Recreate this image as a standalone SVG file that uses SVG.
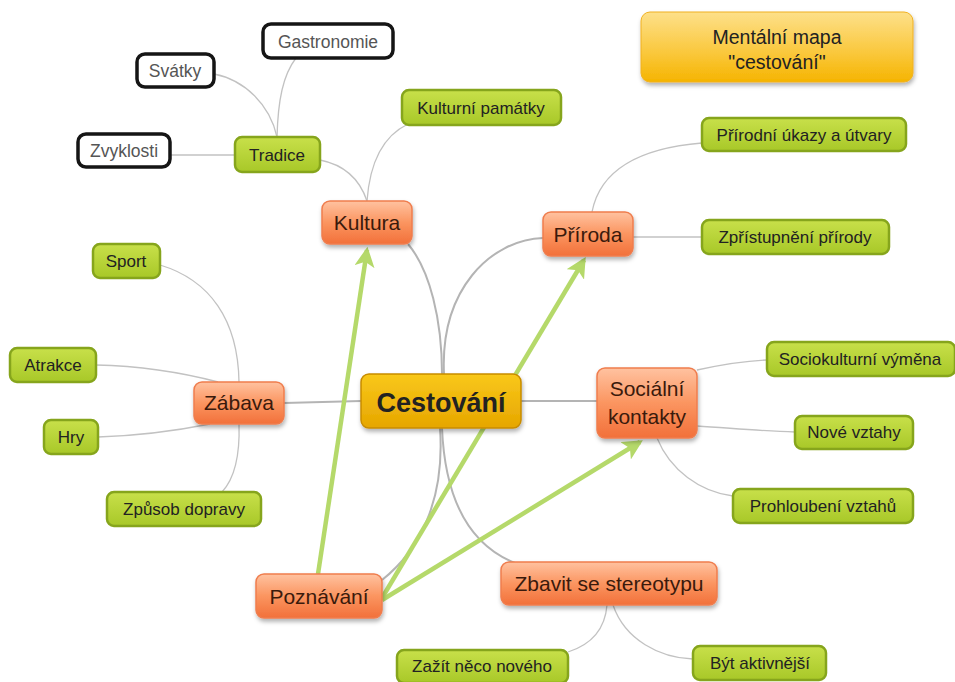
<svg xmlns="http://www.w3.org/2000/svg" width="955" height="682" viewBox="0 0 955 682">
<defs>
<linearGradient id="gOr" x1="0" y1="0" x2="0" y2="1"><stop offset="0" stop-color="#ffc2a0"/><stop offset="0.5" stop-color="#fb9560"/><stop offset="1" stop-color="#f2703a"/></linearGradient>
<linearGradient id="gGr" x1="0" y1="0" x2="0" y2="1"><stop offset="0" stop-color="#c8e04a"/><stop offset="1" stop-color="#a8c828"/></linearGradient>
<linearGradient id="gGold" x1="0" y1="0" x2="0" y2="1"><stop offset="0" stop-color="#f9c81a"/><stop offset="1" stop-color="#e6a600"/></linearGradient>
<linearGradient id="gTitle" x1="0" y1="0" x2="0" y2="1"><stop offset="0" stop-color="#fde08a"/><stop offset="0.6" stop-color="#fac73a"/><stop offset="1" stop-color="#f5b400"/></linearGradient>
<filter id="sh" x="-20%" y="-20%" width="140%" height="160%"><feDropShadow dx="1" dy="3" stdDeviation="2" flood-color="#000" flood-opacity="0.3"/></filter>
<marker id="ah" viewBox="0 0 12 12" refX="10" refY="6" markerWidth="4.5" markerHeight="4.5" orient="auto" markerUnits="strokeWidth"><path d="M0,0 L12,6 L0,12 L3,6 Z" fill="#b5d96a"/></marker>
</defs>
<style>
.t{font-family:"Liberation Sans",Arial,sans-serif;text-anchor:middle;fill:#222}
.leaf{font-size:17px}
.wt{font-size:17.5px;fill:#555}
.mid{font-size:21px;fill:#3a1a0c}
.or{fill:url(#gOr);stroke:#ef7d4e;stroke-width:1.5;filter:url(#sh)}
.gr{fill:url(#gGr);stroke:#86a51c;stroke-width:2.5}
.wh{fill:#fff;stroke:#151515;stroke-width:3.5}
.c1{fill:none;stroke:#b4b4b4;stroke-width:2}
.c2{fill:none;stroke:#c2c2c2;stroke-width:1.3}
.ar{fill:none;stroke:#b5d96a;stroke-width:4.5;marker-end:url(#ah)}
</style>
<rect width="955" height="682" fill="#fff"/>
<g id="connectors">
<path class="c1" d="M361,401 L284,403"/>
<path class="c1" d="M521,401 L597,401"/>
<path class="c1" d="M442,374 C442,320 430,270 408,244"/>
<path class="c1" d="M444,374 C440,290 490,240 543,238"/>
<path class="c1" d="M442,428 C445,500 470,545 515,563"/>
<path class="c1" d="M440,428 C445,500 420,550 382,580"/>
<path class="c2" d="M367,201 C370,160 385,135 408,124"/>
<path class="c2" d="M367,201 C360,180 345,165 320,160"/>
<path class="c2" d="M277,137 C278,100 283,75 296,58"/>
<path class="c2" d="M277,137 C270,105 245,80 214,74"/>
<path class="c2" d="M235,155 L170,155"/>
<path class="c2" d="M592,212 C600,170 640,148 702,143"/>
<path class="c2" d="M633,237 L702,237"/>
<path class="c2" d="M239,382 C238,320 210,280 160,265"/>
<path class="c2" d="M218,382 C180,372 140,366 96,365"/>
<path class="c2" d="M210,424 C170,432 130,436 98,437"/>
<path class="c2" d="M239,424 C240,455 235,478 222,492"/>
<path class="c2" d="M697,370 C720,365 740,361 767,360"/>
<path class="c2" d="M697,426 C730,428 760,431 795,432"/>
<path class="c2" d="M657,438 C670,470 700,492 733,496"/>
<path class="c2" d="M607,605 C605,630 590,645 568,652"/>
<path class="c2" d="M613,605 C625,640 660,658 693,659"/>
<path class="ar" d="M318,574 L367,250"/>
<path class="ar" d="M382,598 L584,260"/>
<path class="ar" d="M382,600 L640,442"/>
</g>
<g id="title"><rect x="641" y="12" width="272" height="70" rx="9" fill="url(#gTitle)" stroke="#f0b020" stroke-width="1" filter="url(#sh)"/><text class="t" x="777" y="44" font-size="19.5">Mentální mapa</text><text class="t" x="777" y="69" font-size="19.5">"cestování"</text></g>
<g id="cestovani"><rect x="361" y="374" width="160" height="54" rx="8" fill="url(#gGold)" stroke="#c88c00" stroke-width="1.5" filter="url(#sh)"/><text class="t" x="441" y="412" font-size="27" font-weight="bold" fill="#111">Cestování</text></g>
<g id="kultura"><rect class="or" x="322" y="201" width="90" height="43" rx="8"/><text class="t mid" x="367" y="230">Kultura</text></g>
<g id="priroda"><rect class="or" x="543" y="212" width="90" height="44" rx="8"/><text class="t mid" x="588" y="242">Příroda</text></g>
<g id="socialni"><rect class="or" x="597" y="368" width="100" height="70" rx="8"/><text class="t mid" x="647" y="396">Sociální</text><text class="t mid" x="647" y="424">kontakty</text></g>
<g id="zabava"><rect class="or" x="194" y="382" width="90" height="42" rx="8"/><text class="t mid" x="239" y="410">Zábava</text></g>
<g id="poznavani"><rect class="or" x="256" y="574" width="126" height="44" rx="8"/><text class="t mid" x="319" y="604">Poznávání</text></g>
<g id="zbavit"><rect class="or" x="501" y="562" width="216" height="43" rx="8"/><text class="t mid" x="609" y="591">Zbavit se stereotypu</text></g>
<g id="kulturni-pamatky"><rect class="gr" x="402" y="90" width="159" height="35" rx="7"/><text class="t leaf" x="481" y="114">Kulturní památky</text></g>
<g id="tradice"><rect class="gr" x="235" y="137" width="85" height="35" rx="7"/><text class="t leaf" x="277" y="161">Tradice</text></g>
<g id="gastronomie"><rect class="wh" x="263" y="24" width="130" height="34" rx="8"/><text class="t wt" x="328" y="48">Gastronomie</text></g>
<g id="svatky"><rect class="wh" x="137" y="54" width="77" height="33" rx="8"/><text class="t wt" x="175" y="77">Svátky</text></g>
<g id="zvyklosti"><rect class="wh" x="78" y="134" width="92" height="33" rx="8"/><text class="t wt" x="124" y="157">Zvyklosti</text></g>
<g id="prirodni-ukazy"><rect class="gr" x="702" y="118" width="204" height="33" rx="7"/><text class="t leaf" x="804" y="141">Přírodní úkazy a útvary</text></g>
<g id="zpristupneni"><rect class="gr" x="702" y="220" width="187" height="34" rx="7"/><text class="t leaf" x="795" y="243">Zpřístupnění přírody</text></g>
<g id="sport"><rect class="gr" x="93" y="244" width="67" height="34" rx="7"/><text class="t leaf" x="126" y="267">Sport</text></g>
<g id="atrakce"><rect class="gr" x="10" y="348" width="86" height="34" rx="7"/><text class="t leaf" x="53" y="371">Atrakce</text></g>
<g id="hry"><rect class="gr" x="44" y="420" width="54" height="34" rx="7"/><text class="t leaf" x="71" y="443">Hry</text></g>
<g id="zpusob-dopravy"><rect class="gr" x="107" y="492" width="154" height="34" rx="7"/><text class="t leaf" x="184" y="515">Způsob dopravy</text></g>
<g id="sociokulturni"><rect class="gr" x="767" y="342" width="188" height="34" rx="7"/><text class="t leaf" x="860" y="365">Sociokulturní výměna</text></g>
<g id="nove-vztahy"><rect class="gr" x="795" y="416" width="118" height="33" rx="7"/><text class="t leaf" x="854" y="438">Nové vztahy</text></g>
<g id="prohloubeni"><rect class="gr" x="733" y="489" width="180" height="34" rx="7"/><text class="t leaf" x="823" y="512">Prohloubení vztahů</text></g>
<g id="zazit"><rect class="gr" x="397" y="650" width="171" height="33" rx="7"/><text class="t leaf" x="482" y="672">Zažít něco nového</text></g>
<g id="byt"><rect class="gr" x="693" y="646" width="133" height="34" rx="7"/><text class="t leaf" x="760" y="669">Být aktivnější</text></g>
</svg>
